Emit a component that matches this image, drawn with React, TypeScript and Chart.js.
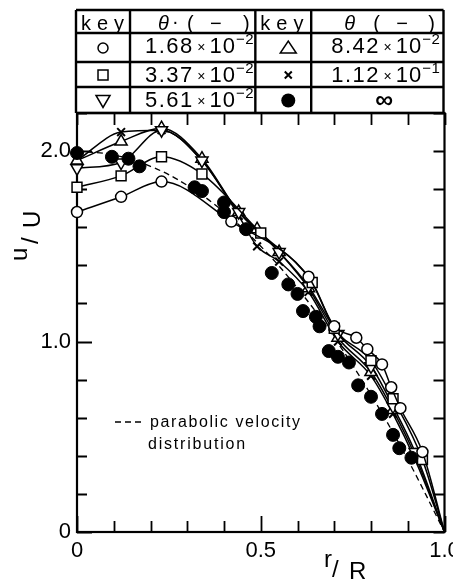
import React, { useEffect, useRef } from 'react';
import { Chart, registerables } from 'chart.js';

Chart.register(...registerables);

const FONT = "'Liberation Sans', Arial, Helvetica, sans-serif";

// ---- axis tick labels ----
const xTickValues = [0, 0.5, 1.0];
const xTickText = ['0', '0.5', '1.0'];
const yTickValues = [0, 1, 2];
const yTickText = ['0', '1.0', '2.0'];

// ---- key table ----
const keyStyles = ['circle', 'rect', 'triangle-down', 'triangle', 'cross', 'filled'];
const thetaMantissa = ['1.68', '3.37', '5.61', '8.42', '1.12', '∞'];
const thetaExponent = ['−2', '−2', '−2', '−2', '−1', ''];

// ---- series: r/R and u/U ----
const rCircle = [0, 0.12, 0.23, 0.42, 0.63, 0.70, 0.76, 0.79, 0.83, 0.855, 0.88, 0.94, 1.0];
const uCircle = [1.68, 1.76, 1.84, 1.63, 1.34, 1.08, 1.02, 0.96, 0.88, 0.76, 0.65, 0.42, 0];

const rSquare = [0, 0.12, 0.23, 0.34, 0.50, 0.64, 0.70, 0.80, 0.86, 0.94, 1.0];
const uSquare = [1.81, 1.87, 1.97, 1.88, 1.57, 1.31, 1.07, 0.90, 0.70, 0.38, 0];

const rTriDown = [0, 0.12, 0.23, 0.34, 0.44, 0.55, 0.63, 0.71, 0.80, 0.86, 0.92, 1.0];
const uTriDown = [1.91, 1.94, 2.11, 1.95, 1.68, 1.47, 1.29, 1.04, 0.87, 0.66, 0.42, 0];

const rTriUp = [0, 0.12, 0.23, 0.34, 0.44, 0.49, 0.55, 0.63, 0.71, 0.80, 0.86, 0.92, 1.0];
const uTriUp = [1.95, 2.05, 2.12, 1.96, 1.68, 1.59, 1.47, 1.28, 1.02, 0.84, 0.64, 0.40, 0];

const rCross = [0, 0.12, 0.23, 0.34, 0.44, 0.49, 0.55, 0.63, 0.71, 0.80, 0.86, 0.92, 1.0];
const uCross = [1.95, 2.10, 2.11, 1.95, 1.66, 1.50, 1.42, 1.26, 1.00, 0.82, 0.62, 0.38, 0];

const rFilled = [0, 0.095, 0.14, 0.17, 0.32, 0.34, 0.40, 0.40, 0.46, 0.53, 0.575, 0.60, 0.615, 0.65, 0.66, 0.685, 0.71, 0.74, 0.765, 0.80, 0.83, 0.86, 0.877, 0.91];
const uFilled = [1.99, 1.97, 1.96, 1.92, 1.81, 1.79, 1.73, 1.68, 1.59, 1.36, 1.30, 1.25, 1.16, 1.13, 1.08, 0.95, 0.92, 0.89, 0.77, 0.71, 0.62, 0.51, 0.44, 0.39];

// parabolic velocity distribution
const rParabola = [0, 0.1, 0.2, 0.3, 0.4, 0.5, 0.6, 0.7, 0.8, 0.9, 1.0];
const uParabola = [2.0, 1.98, 1.92, 1.82, 1.68, 1.5, 1.28, 1.02, 0.72, 0.38, 0];

const toPoints = (r: number[], u: number[]) => r.map((x, i) => ({ x, y: u[i] }));
const findLabel = (vals: number[], texts: string[], v: number) => {
  const i = vals.findIndex((t) => Math.abs(t - v) < 1e-6);
  return i >= 0 ? texts[i] : '';
};

function spaced(ctx: CanvasRenderingContext2D, text: string, x: number, y: number, sp: number) {
  let cx = x;
  for (const ch of text) {
    ctx.fillText(ch, cx, y);
    cx += ctx.measureText(ch).width + sp;
  }
  return cx - sp;
}

function drawKey(ctx: CanvasRenderingContext2D, style: string, x: number, y: number) {
  ctx.save();
  ctx.lineWidth = 1.5;
  ctx.strokeStyle = '#000';
  ctx.fillStyle = '#000';
  ctx.beginPath();
  if (style === 'circle') {
    ctx.arc(x, y, 5, 0, Math.PI * 2);
    ctx.stroke();
  } else if (style === 'rect') {
    ctx.rect(x - 5, y - 5, 10, 10);
    ctx.stroke();
  } else if (style === 'triangle-down') {
    ctx.moveTo(x - 7, y - 5);
    ctx.lineTo(x + 7, y - 5);
    ctx.lineTo(x, y + 7);
    ctx.closePath();
    ctx.stroke();
  } else if (style === 'triangle') {
    ctx.moveTo(x - 8, y + 5);
    ctx.lineTo(x + 8, y + 5);
    ctx.lineTo(x, y - 7);
    ctx.closePath();
    ctx.stroke();
  } else if (style === 'cross') {
    ctx.lineWidth = 2;
    ctx.moveTo(x - 3.5, y - 3.5);
    ctx.lineTo(x + 3.5, y + 3.5);
    ctx.moveTo(x + 3.5, y - 3.5);
    ctx.lineTo(x - 3.5, y + 3.5);
    ctx.stroke();
  } else {
    ctx.arc(x, y, 7, 0, Math.PI * 2);
    ctx.fill();
  }
  ctx.restore();
}

const framePlugin = {
  id: 'frameTicks',
  beforeDatasetsDraw(chart: any) {
    const { ctx, chartArea: a, scales } = chart;
    const xs = scales.x;
    const ys = scales.y;
    ctx.save();
    ctx.strokeStyle = '#000';
    ctx.lineWidth = 2.2;
    ctx.strokeRect(a.left, a.top, a.right - a.left, a.bottom - a.top);
    ctx.lineWidth = 1.8;
    ctx.beginPath();
    xs.ticks.forEach((t: any) => {
      const px = Math.round(xs.getPixelForValue(t.value)) + 0.5;
      const major = findLabel(xTickValues, xTickText, t.value) !== '';
      ctx.moveTo(px, a.bottom);
      ctx.lineTo(px, a.bottom - (major ? 16 : 11));
      ctx.moveTo(px, a.top);
      ctx.lineTo(px, a.top + 12);
    });
    ys.ticks.forEach((t: any) => {
      const py = Math.round(ys.getPixelForValue(t.value)) + 0.5;
      const major = findLabel(yTickValues, yTickText, t.value) !== '';
      ctx.moveTo(a.left, py);
      ctx.lineTo(a.left + (major ? 15 : 10), py);
      ctx.moveTo(a.right, py);
      ctx.lineTo(a.right - 11, py);
    });
    ctx.stroke();
    ctx.restore();
  },
  afterDraw(chart: any) {
    const { ctx, chartArea: a } = chart;
    ctx.save();
    ctx.fillStyle = '#000';
    ctx.strokeStyle = '#000';

    // ---- table ----
    const L = a.left - 1;
    const R = a.right - 1;
    const W = R - L;
    const cols = [L, L + W * 0.147, L + W * 0.488, L + W * 0.64, R];
    const rows = [10, 33, 62, 87, a.top];
    ctx.lineWidth = 2.4;
    ctx.beginPath();
    rows.forEach((y) => {
      ctx.moveTo(L, y);
      ctx.lineTo(R, y);
    });
    cols.forEach((x) => {
      ctx.moveTo(x, rows[0]);
      ctx.lineTo(x, rows[4]);
    });
    ctx.stroke();

    ctx.textBaseline = 'alphabetic';
    ctx.textAlign = 'left';
    // header
    ctx.font = `20px ${FONT}`;
    spaced(ctx, 'key', cols[0] + 5, 30, 6);
    spaced(ctx, 'key', cols[2] + 5, 30, 6);
    const header = (c: number, dot: boolean, offs: number[]) => {
      ctx.font = `italic 20px ${FONT}`;
      ctx.fillText('θ', c + offs[0], 30);
      ctx.font = `20px ${FONT}`;
      if (dot) ctx.fillText('·', c + offs[0] + 14, 28);
      ctx.fillText('(', c + offs[1], 30);
      ctx.fillText('−', c + offs[2], 30);
      ctx.fillText(')', c + offs[3], 30);
    };
    header(cols[1], true, [28, 57, 80, 113]);
    header(cols[3], false, [33, 62, 85, 117]);

    // rows
    for (let i = 0; i < 6; i++) {
      const r = i % 3;
      const side = i < 3 ? 0 : 1;
      const cKey = side === 0 ? (cols[0] + cols[1]) / 2 : (cols[2] + cols[3]) / 2 + 5;
      const yc = (rows[r + 1] + rows[r + 2]) / 2 + 0.5;
      drawKey(ctx, keyStyles[i], cKey, yc);
      const base = rows[r + 1] + 20;
      const c = side === 0 ? cols[1] + 15 : cols[3] + 20;
      if (thetaExponent[i] === '') {
        ctx.font = `bold 25px ${FONT}`;
        ctx.textAlign = 'center';
        ctx.fillText(thetaMantissa[i], cols[3] + 73, base + 1);
        ctx.textAlign = 'left';
        continue;
      }
      ctx.font = `22px ${FONT}`;
      let cx = spaced(ctx, thetaMantissa[i], c, base, 1.5);
      ctx.font = `14px ${FONT}`;
      ctx.fillText('×', cx + 5, base - 1);
      cx += 5 + ctx.measureText('×').width + 4;
      ctx.font = `22px ${FONT}`;
      cx = spaced(ctx, '10', cx, base, 1);
      ctx.font = `15px ${FONT}`;
      spaced(ctx, thetaExponent[i], cx + 1, base - 9, 0.5);
    }

    // ---- legend note ----
    const lx = a.left + 38;
    const ly = 422;
    ctx.lineWidth = 1.5;
    ctx.setLineDash([6, 4]);
    ctx.beginPath();
    ctx.moveTo(lx, ly);
    ctx.lineTo(lx + 27, ly);
    ctx.stroke();
    ctx.setLineDash([]);
    ctx.font = `16px ${FONT}`;
    spaced(ctx, 'parabolic velocity', lx + 35, ly + 5, 1.6);
    spaced(ctx, 'distribution', lx + 33, ly + 27, 1.8);

    // ---- axis titles ----
    ctx.font = `24px ${FONT}`;
    ctx.fillText('r', 324, 567);
    ctx.fillText('/', 332, 577);
    ctx.fillText('R', 349, 579);

    ctx.save();
    ctx.translate(40, 261);
    ctx.rotate(-Math.PI / 2);
    ctx.fillText('u', 0, -13);
    ctx.fillText('/', 17, -2);
    ctx.fillText('U', 33, 0);
    ctx.restore();

    ctx.restore();
  },
};

export default function App() {
  const ref = useRef<HTMLCanvasElement | null>(null);

  useEffect(() => {
    if (!ref.current) return;
    const lineSeries = [
      { r: rCircle, u: uCircle, style: 'circle', rot: 0, rad: 5.5 },
      { r: rSquare, u: uSquare, style: 'rect', rot: 0, rad: 7 },
      { r: rTriDown, u: uTriDown, style: 'triangle', rot: 180, rad: 7 },
      { r: rTriUp, u: uTriUp, style: 'triangle', rot: 0, rad: 7 },
      { r: rCross, u: uCross, style: 'crossRot', rot: 0, rad: 5.5 },
    ];
    const datasets: any[] = [
      {
        label: '∞',
        data: toPoints(rFilled, uFilled),
        showLine: false,
        pointStyle: 'circle',
        pointRadius: 6.5,
        pointBackgroundColor: '#000',
        pointBorderColor: '#000',
        pointBorderWidth: 1,
        clip: false,
      },
      ...lineSeries.map((s, i) => ({
        label: thetaMantissa[i],
        data: toPoints(s.r, s.u),
        showLine: true,
        borderColor: '#000',
        borderWidth: 1.5,
        cubicInterpolationMode: 'monotone',
        pointStyle: s.style,
        pointRotation: s.rot,
        pointRadius: (c: any) => (c.raw && c.raw.x >= 1 ? 0 : s.rad),
        pointBackgroundColor: '#fff',
        pointBorderColor: '#000',
        pointBorderWidth: s.style === 'crossRot' ? 2 : 1.5,
        clip: false,
      })),
      {
        label: 'parabolic',
        data: toPoints(rParabola, uParabola),
        showLine: true,
        borderColor: '#000',
        borderWidth: 1.3,
        borderDash: [6, 4],
        tension: 0.4,
        pointRadius: 0,
        clip: false,
      },
    ];

    const chart = new Chart(ref.current, {
      type: 'scatter',
      data: { datasets },
      options: {
        responsive: false,
        animation: false,
        layout: { padding: { top: 113, right: 2, left: 0, bottom: 0 } },
        plugins: { legend: { display: false }, tooltip: { enabled: false } },
        scales: {
          x: {
            type: 'linear',
            min: 0,
            max: 1,
            grid: { display: false, drawTicks: false },
            border: { display: false },
            ticks: {
              stepSize: 0.1,
              autoSkip: false,
              maxRotation: 0,
              padding: 6,
              color: '#000',
              font: { family: FONT, size: 22 },
              callback: (v: any) => findLabel(xTickValues, xTickText, Number(v)),
            },
            afterFit: (s: any) => {
              s.height = 48;
              s.paddingLeft = 0;
              s.paddingRight = 0;
            },
          },
          y: {
            type: 'linear',
            min: 0,
            max: 2.2,
            grid: { display: false, drawTicks: false },
            border: { display: false },
            ticks: {
              stepSize: 0.2,
              autoSkip: false,
              padding: 6,
              color: '#000',
              font: { family: FONT, size: 22 },
              callback: (v: any) => findLabel(yTickValues, yTickText, Number(v)),
            },
            afterFit: (s: any) => {
              s.width = 77;
              s.paddingTop = 0;
              s.paddingBottom = 0;
            },
          },
        },
      } as any,
      plugins: [framePlugin],
    });
    return () => chart.destroy();
  }, []);

  return (
    <div style={{ position: 'absolute', left: 0, top: 0, width: 453, height: 580, background: '#fff' }}>
      <canvas ref={ref} width={453} height={580} style={{ display: 'block' }} />
    </div>
  );
}
